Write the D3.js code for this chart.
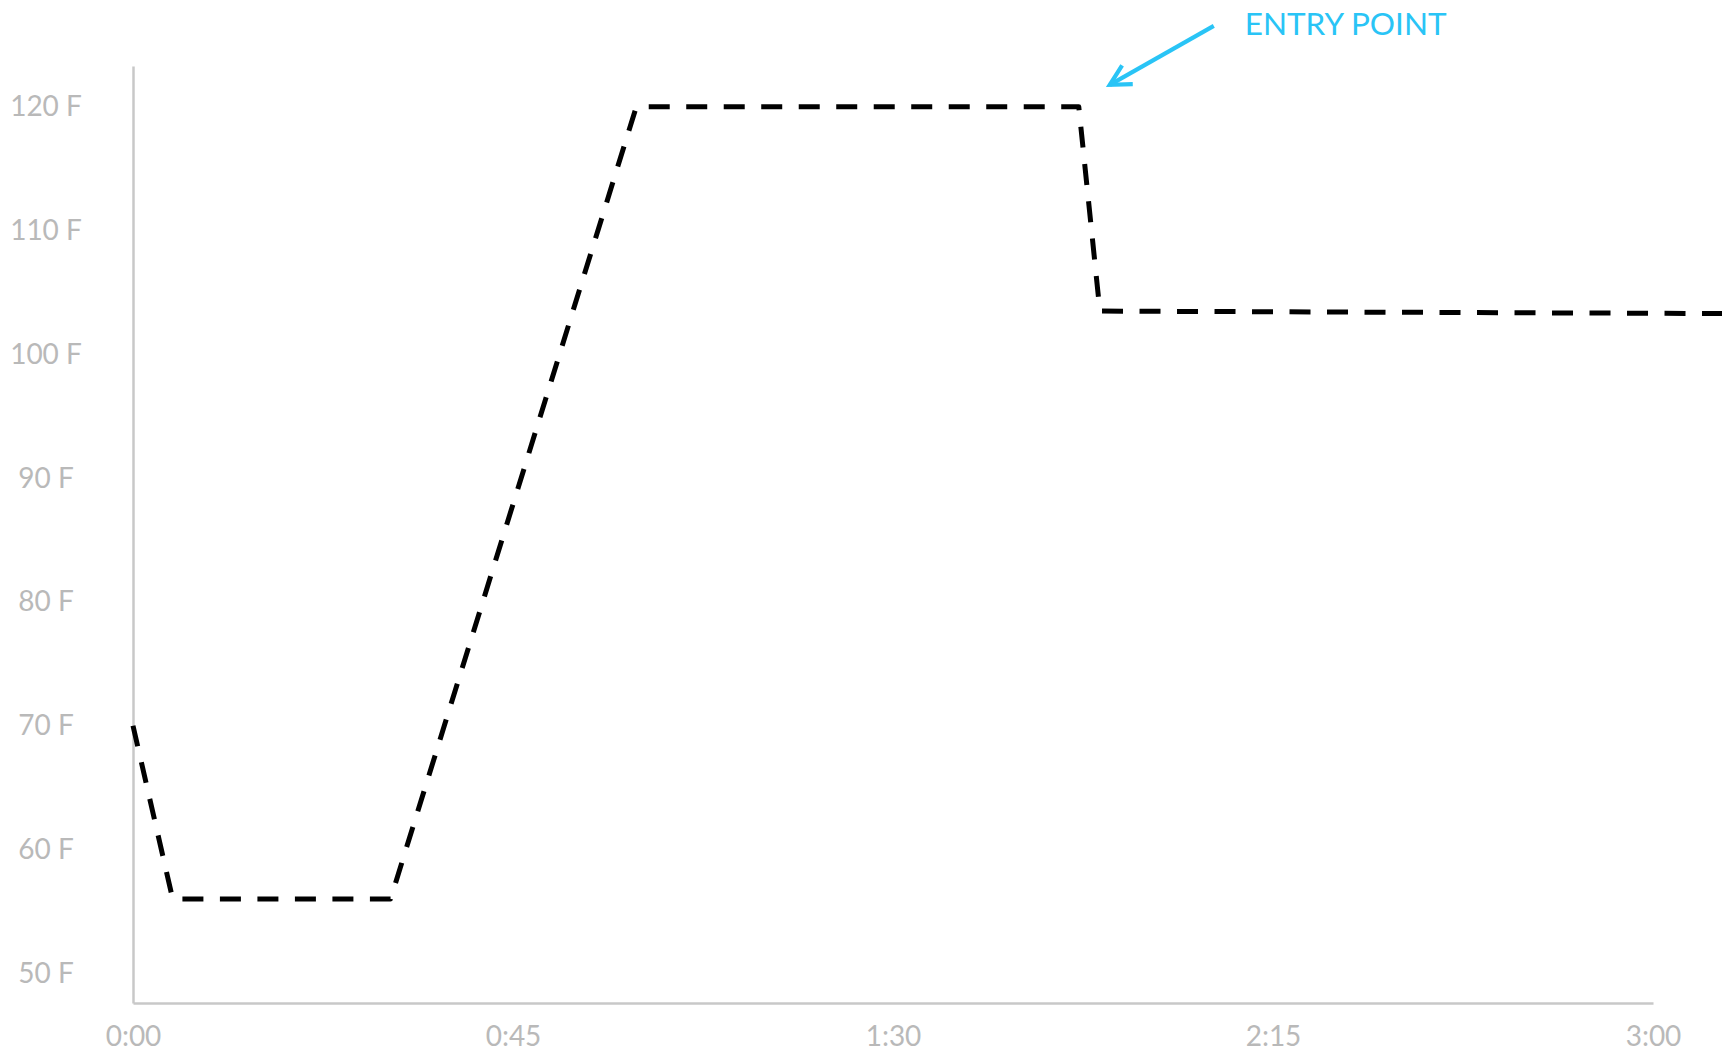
<!DOCTYPE html>
<html>
<head>
<meta charset="utf-8">
<script src="https://cdn.jsdelivr.net/npm/d3@7"></script>
<style>
  html, body { margin: 0; padding: 0; background: #ffffff; }
  svg { display: block; }
</style>
</head>
<body>
<svg id="chart" width="1722" height="1055"></svg>
<script>
// Temperature profile over time (minutes since start, degrees F)
const timeMin = [0, 4.7, 30.5, 59.6, 112.0, 114.5, 188.2];
const tempF   = [70, 56, 56, 120, 120, 103.5, 103.3];

// Axis extents and ticks
const xDomain = [0, 180];
const yDomain = [47.6, 123.3];
const xTickValues = [0, 45, 90, 135, 180];
const xTickLabels = ["0:00", "0:45", "1:30", "2:15", "3:00"];
const yTickValues = [50, 60, 70, 80, 90, 100, 110, 120];
const yTickLabels = ["50 F", "60 F", "70 F", "80 F", "90 F", "100 F", "110 F", "120 F"];

// Callout
const entryTime = 112.0;
const entryTemp = 120;
const entryLabel = "ENTRY POINT";

const plot = { left: 133, right: 1653, top: 66, bottom: 1003 };
const axisGrey = "#c8c8c8";
const labelGrey = "#b9b9b9";
const calloutBlue = "#29c4f6";
const fontFamily = "Lato, 'Open Sans', sans-serif";

const svg = d3.select("#chart");

const x = d3.scaleLinear().domain(xDomain).range([plot.left, plot.right]);
const y = d3.scaleLinear().domain(yDomain).range([plot.bottom, plot.top]);

// Y axis
const yAxis = d3.axisLeft(y)
  .tickValues(yTickValues)
  .tickFormat((d, i) => yTickLabels[i])
  .tickSize(0)
  .tickSizeOuter(0);

const gy = svg.append("g")
  .attr("transform", `translate(${plot.left},0)`)
  .call(yAxis);
gy.select(".domain").attr("stroke", axisGrey).attr("stroke-width", 2.5);
gy.selectAll(".tick text")
  .attr("x", -87)
  .attr("text-anchor", "middle")
  .attr("fill", labelGrey)
  .style("font-family", fontFamily)
  .style("font-size", "28px");

// X axis
const xAxis = d3.axisBottom(x)
  .tickValues(xTickValues)
  .tickFormat((d, i) => xTickLabels[i])
  .tickSize(0)
  .tickSizeOuter(0)
  .tickPadding(23);

const gx = svg.append("g")
  .attr("transform", `translate(0,${plot.bottom})`)
  .call(xAxis);
gx.select(".domain").attr("stroke", axisGrey).attr("stroke-width", 2.5);
gx.selectAll(".tick text")
  .attr("fill", labelGrey)
  .style("font-family", fontFamily)
  .style("font-size", "28px");

// Temperature line (dashed)
const points = timeMin.map((t, i) => [t, tempF[i]]);
const line = d3.line().x(d => x(d[0])).y(d => y(d[1]));

svg.append("path")
  .datum(points)
  .attr("d", line)
  .attr("fill", "none")
  .attr("stroke", "#000000")
  .attr("stroke-width", 5)
  .attr("stroke-dasharray", "21,16.5")
  .attr("stroke-linejoin", "round")
  .attr("stroke-linecap", "butt");

// Callout arrow pointing at the entry point
const ex = x(entryTime), ey = y(entryTemp);
const tip = [ex + 31, ey - 22];
const tail = [ex + 135, ey - 81];
const ang = Math.atan2(tail[1] - tip[1], tail[0] - tip[0]);
const headLen = 23, headSpread = 28 * Math.PI / 180;
const arm1 = [tip[0] + headLen * Math.cos(ang - headSpread), tip[1] + headLen * Math.sin(ang - headSpread)];
const arm2 = [tip[0] + headLen * Math.cos(ang + headSpread), tip[1] + headLen * Math.sin(ang + headSpread)];

const arrow = svg.append("g")
  .attr("fill", "none")
  .attr("stroke", calloutBlue)
  .attr("stroke-width", 4.2)
  .attr("stroke-linecap", "butt")
  .attr("stroke-linejoin", "miter");

arrow.append("path").attr("d", d3.line()([tail, tip]));
arrow.append("path").attr("d", d3.line()([arm1, tip, arm2]));

svg.append("text")
  .attr("x", tail[0] + 31)
  .attr("y", ey - 72)
  .attr("fill", calloutBlue)
  .style("font-family", fontFamily)
  .style("font-size", "31.5px")
  .text(entryLabel);
</script>
</body>
</html>
